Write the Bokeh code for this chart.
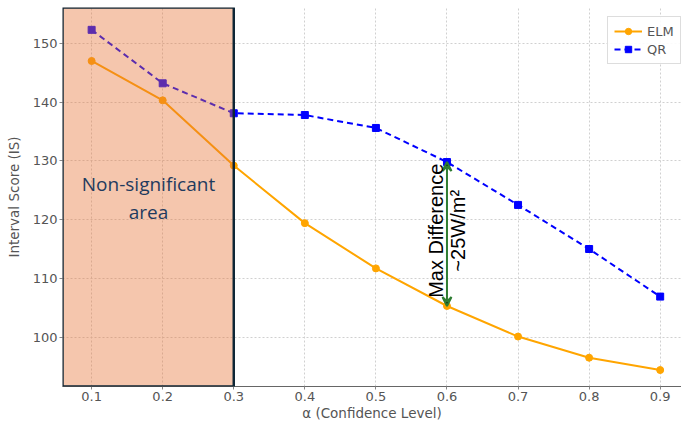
from bokeh.plotting import figure
from bokeh.models import BoxAnnotation, Label, Arrow, VeeHead, Legend, LegendItem, Range1d, FixedTicker
from bokeh.embed import file_html
from bokeh.resources import INLINE

alpha = [0.1, 0.2, 0.3, 0.4, 0.5, 0.6, 0.7, 0.8, 0.9]
elm = [147.0, 140.3, 129.2, 119.4, 111.7, 105.3, 100.1, 96.5, 94.4]
qr = [152.3, 143.2, 138.1, 137.8, 135.6, 129.8, 122.5, 115.0, 106.9]
y_ticks = [100, 110, 120, 130, 140, 150]

X0, X1 = 0.059, 0.930
Y0, Y1 = 91.6, 156.1

p = figure(width=681, height=423, output_backend="svg", toolbar_location=None,
           x_range=Range1d(X0, X1), y_range=Range1d(Y0, Y1),
           min_border_left=62, min_border_right=0, min_border_top=7, min_border_bottom=37)
p.outline_line_color = None
p.background_fill_color = "white"

for ax in (p.xaxis[0], p.yaxis[0]):
    ax.major_label_text_font = "DejaVu Sans"
    ax.major_label_text_font_size = "13px"
    ax.major_label_text_color = "#555555"
    ax.axis_label_text_font = "DejaVu Sans"
    ax.axis_label_text_font_size = "13.5px"
    ax.axis_label_text_color = "#555555"
    ax.axis_label_text_font_style = "normal"
    ax.minor_tick_line_color = None
    ax.major_tick_line_color = "#888888"
    ax.major_tick_out = 3
    ax.major_tick_in = 0
    ax.major_label_standoff = 2
    ax.axis_label_standoff = 1

p.xaxis.ticker = FixedTicker(ticks=alpha)
p.yaxis.ticker = FixedTicker(ticks=y_ticks)
p.xaxis.axis_label = "\u03b1 (Confidence Level)"
p.yaxis.axis_label = "Interval Score (IS)"
p.xaxis.axis_line_color = "#666666"
p.yaxis.axis_line_color = None
p.yaxis.axis_label_standoff = 8

p.xgrid.grid_line_color = "#d0d0d0"
p.ygrid.grid_line_color = "#d0d0d0"
p.xgrid.grid_line_dash = "2 2"
p.ygrid.grid_line_dash = "2 2"

l1 = p.line(alpha, elm, color="#FFA500", line_width=2)
m1 = p.scatter(alpha, elm, marker="circle", size=7, color="#FFA500")
l2 = p.line(alpha, qr, color="#0000FF", line_width=2, line_dash="6 4")
m2 = p.scatter(alpha, qr, marker="square", size=7, color="#0000FF")

box = BoxAnnotation(left=X0, right=0.3, bottom=Y0, top=Y1,
                    fill_color=(230, 112, 50), fill_alpha=0.4,
                    line_color="#0e2636", line_width=2.5, line_alpha=1)
p.add_layout(box)

for txt, yv in (("Non-significant", 126.1), ("area", 121.3)):
    p.add_layout(Label(x=0.18, y=yv, text=txt, text_align="center", text_baseline="middle",
                       text_font="Open Sans", text_font_size="19px", text_color="#1f3b5e"))

p.add_layout(Arrow(x_start=0.6, y_start=105.3, x_end=0.6, y_end=129.8,
                   line_color="#2e7d32", line_width=2,
                   start=VeeHead(size=9, line_color="#2e7d32", line_width=2),
                   end=VeeHead(size=9, line_color="#2e7d32", line_width=2)))
p.add_layout(Label(x=0.585, y=118.1, text="Max Difference", angle=1.5708, angle_units="rad",
                   text_align="center", text_baseline="middle",
                   text_font="Liberation Sans", text_font_size="20px", text_color="black"))
p.add_layout(Label(x=0.616, y=118.1, text="~25W/m\u00b2", angle=1.5708, angle_units="rad",
                   text_align="center", text_baseline="middle",
                   text_font="Liberation Sans", text_font_size="20px", text_color="black"))

legend = Legend(items=[LegendItem(label="ELM", renderers=[l1, m1]),
                       LegendItem(label="QR", renderers=[l2, m2])],
                location=(545, 322), margin=0, padding=6, spacing=2,
                label_text_font="DejaVu Sans", label_text_font_size="13px",
                label_text_color="#555555", glyph_width=28, glyph_height=16,
                border_line_color="#dddddd", border_line_alpha=1, background_fill_alpha=0.9)
p.add_layout(legend)

open("out.html", "w").write(file_html(p, INLINE))
